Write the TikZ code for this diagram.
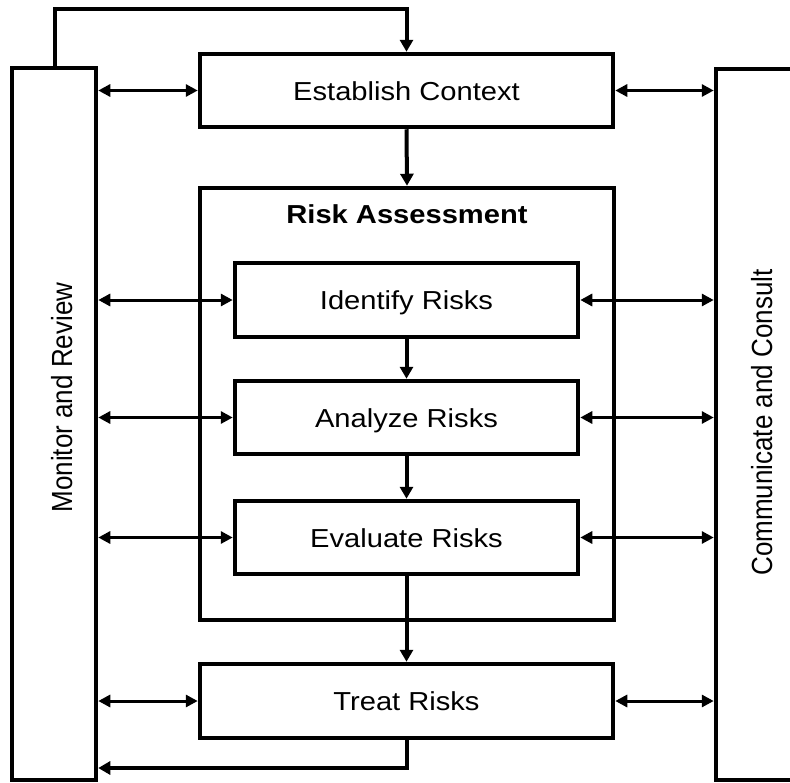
\documentclass[tikz,border=0pt]{standalone}
\usepackage{fontspec}
\setmainfont{Liberation Sans}
\usepackage{graphicx}
\usetikzlibrary{arrows.meta}
\newcommand{\hstr}[1]{\scalebox{1.12}[1]{#1}}
\newcommand{\vstr}[1]{\scalebox{1}[1.12]{#1}}
\begin{document}
\begin{tikzpicture}[x=1pt,y=-1pt,
  box/.style={draw=black, line width=4.5pt, fill=white, inner sep=0pt,
    text height=19pt, text depth=0pt, font=\fontsize{26}{30}\selectfont},
  sidebox/.style={draw=black, line width=4.5pt, fill=white, inner sep=0pt},
  sidetext/.style={rotate=90, anchor=base, inner sep=0pt, font=\fontsize{26}{30}\selectfont},
  flow/.style={line width=4pt, -{Triangle[length=12pt,width=13pt]}},
  dbl/.style={line width=3pt, {Triangle[length=12pt,width=12pt]}-{Triangle[length=12pt,width=12pt]}},
]
\fill[white] (0,0) rectangle (790,782);
\useasboundingbox (0,0) rectangle (790,782);

% side boxes
\node[sidebox, minimum width=84pt, minimum height=712pt] (mr) at (54,424) {};
\node[sidebox, minimum width=150pt, minimum height=711pt] (cc) at (791,424.5) {};
\node[sidetext] (mrtext) at (72,397.5) {\vstr{Monitor and Review}};
\node[sidetext] (cctext) at (772,422.5) {\vstr{Communicate and Consult}};

% main boxes
\node[box, minimum width=413pt, minimum height=73pt] (ec) at (406.5,90.5) {\hstr{Establish Context}};
\node[sidebox, minimum width=414pt, minimum height=432pt] (ra) at (407,404) {};
\node[anchor=base, inner sep=0pt, font=\fontsize{26}{30}\selectfont\bfseries] (ratitle) at (407,223) {\hstr{Risk Assessment}};
\node[box, minimum width=343pt, minimum height=74pt] (id) at (406.5,300) {\hstr{Identify Risks}};
\node[box, minimum width=343pt, minimum height=73pt] (an) at (406.5,417.5) {\hstr{Analyze Risks}};
\node[box, minimum width=343pt, minimum height=73pt] (ev) at (406.5,537.5) {\hstr{Evaluate Risks}};
\node[box, minimum width=413pt, minimum height=74pt] (tr) at (406.5,701) {\hstr{Treat Risks}};

% flow arrows
\draw[flow] (ec.south) -- (ra.north);
\draw[flow] (id.south) -- (an.north);
\draw[flow] (an.south) -- (ev.north);
\draw[flow] (ev.south) -- (tr.north);

% loops
\coordinate (tl) at (55,9);
\coordinate (bl) at (0,768);
\draw[flow] (mr.north -| tl) -- (tl) -| (ec.north);
\draw[flow] (tr.south) |- (mr.east |- bl);

% double arrows
\foreach \n in {ec,id,an,ev,tr}{
  \draw[dbl] (mr.east |- \n.west) -- (\n.west);
  \draw[dbl] (\n.east) -- (cc.west |- \n.east);
}
\end{tikzpicture}
\end{document}
